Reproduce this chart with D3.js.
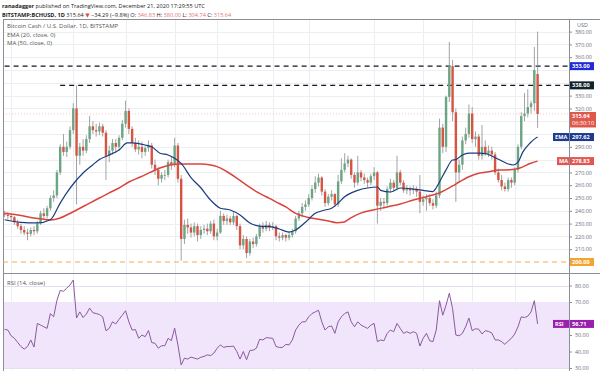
<!DOCTYPE html>
<html>
<head>
<meta charset="utf-8">
<script src="https://cdn.jsdelivr.net/npm/d3@7"></script>
<style>
  body { margin: 0; background: #fff; }
  svg { display: block; font-family: "Open Sans", "DejaVu Sans", sans-serif; }
</style>
</head>
<body>
<svg id="chart" width="600" height="371"></svg>
<script>
// daily BCH/USD candles, first one is 11 Jul 2020, last one 21 Dec 2020
const firstDay = "2020-07-11";
// [open, high, low, close]
const candles = [
  [238,240,235,237],[237,239,233,236],[236,238,232,235],[235,236,229,231],[231,233,226,228],
  [228,230,222,225],[225,228,221,223],[223,226,217,222],[222,227,220,225],[225,228,221,224],
  [224,232,222,230],[230,240,229,238],[238,242,233,236],[236,244,234,242],[242,252,240,250],
  [250,256,247,252],[252,272,250,270],[270,292,268,290],[290,300,283,286],[286,294,282,290],
  [290,306,288,303],[303,324,300,320],[320,338,245,283],[283,293,276,290],[290,296,283,287],
  [287,299,285,296],[296,314,293,306],[306,310,300,303],[303,308,298,302],[302,309,299,306],
  [306,308,298,301],[301,303,264,283],[283,291,278,287],[287,296,284,293],[293,296,285,290],
  [290,299,287,297],[297,311,295,308],[308,326,305,318],[318,320,300,304],[304,306,290,293],
  [293,297,286,288],[288,295,284,290],[290,294,281,286],[286,291,283,289],[289,295,286,291],
  [291,293,273,276],[276,280,268,272],[272,274,260,265],[265,270,262,268],[268,272,264,268],
  [268,280,266,278],[278,282,272,276],[276,297,274,291],[291,293,262,265],[265,268,201,218],
  [218,233,214,229],[229,234,222,227],[227,230,219,223],[223,231,220,228],[228,230,216,221],
  [221,228,218,225],[225,229,222,226],[226,230,221,224],[224,232,222,230],[230,233,217,220],
  [220,226,217,223],[223,240,222,236],[236,238,229,232],[232,237,229,234],[234,236,229,231],
  [231,239,229,236],[236,237,225,228],[228,230,210,213],[213,221,210,218],[218,220,203,207],
  [207,218,205,216],[216,219,211,214],[214,222,212,220],[220,230,218,228],[228,231,223,226],
  [226,232,224,229],[229,231,224,227],[227,231,225,228],[228,229,217,220],[220,223,216,219],
  [219,223,217,221],[221,222,216,219],[219,224,217,221],[221,226,219,224],[224,236,222,234],
  [234,240,232,238],[238,246,235,243],[243,248,240,245],[245,253,243,250],[250,260,248,257],
  [257,267,254,262],[262,269,259,266],[266,267,252,255],[255,257,243,246],[246,253,244,251],
  [251,256,248,253],[253,254,243,245],[245,268,243,263],[263,281,261,272],[272,285,270,277],
  [277,283,274,280],[280,281,265,268],[268,270,258,262],[262,283,260,270],[270,272,263,266],
  [266,269,261,264],[264,266,258,262],[262,269,260,267],[267,274,264,270],[270,271,230,244],
  [244,250,240,247],[247,250,242,246],[246,259,244,257],[257,265,254,262],[262,264,255,258],
  [258,283,256,270],[270,272,260,262],[262,264,254,256],[256,260,253,257],[257,259,252,256],
  [256,260,253,257],[257,259,251,255],[255,268,238,247],[247,252,244,249],[249,253,240,250],
  [250,253,244,246],[246,249,241,244],[244,255,242,252],[252,312,250,305],[305,308,285,290],
  [290,330,286,329],[329,372,325,353],[353,358,310,317],[317,320,247,270],[270,280,262,276],
  [276,298,272,295],[295,305,292,300],[300,323,297,316],[316,321,293,296],[296,302,290,298],
  [298,300,280,283],[283,307,280,290],[290,295,283,285],[285,291,282,287],[287,290,280,284],
  [284,286,268,270],[270,273,262,264],[264,268,256,259],[259,262,255,257],[257,266,255,264],
  [264,266,258,262],[262,274,260,272],[272,292,270,290],[290,317,288,314],[314,332,310,316],
  [316,335,313,321],[321,326,316,324],[324,368,318,349.93],[346.83,380,304.74,315.64]
];

// EMA(20): [day number, value]
const ema20 = [
  [0,233],[5,231],[10,230.5],[14,233],[17,246],[19,254],[21.5,262.5],[24,269.5],[27,276],
  [29,280],[32,283.6],[35,287.5],[37.5,293],[39,293],[43,291.4],[45,290],[47.5,285],[50,283.6],
  [52,281],[54,277],[57,266],[60,258],[63,248.4],[66,242],[69,240.6],[72,236.7],[75,230.5],
  [78,228],[81,227.6],[84,225.8],[87,223.4],[89,225],[92,231],[95,238],[98,240.6],[100,242],
  [102,246],[104,251],[108,256],[111,257.8],[114,258.6],[115,256],[118,254.7],[121,257.8],
  [125,257],[128,256],[131,255],[132,258],[133,262.5],[135,272],[137,279.7],[138,280],
  [140,283.6],[142,285],[145,285],[147.5,284.5],[149,282.8],[151.5,279.7],[153.6,277],
  [155.5,275.8],[157,278],[158.5,286],[160.7,293],[162,296],[163,297.62]
];

// MA(50)
const ma50 = [
  [0,238],[4,236.7],[9,234.4],[14,232.8],[17,234.4],[19,236.7],[22,240.6],[26,246],[29,250],
  [32,254],[35,257.8],[38,262.5],[41.5,266.4],[44.5,270],[47.5,273.4],[50.6,275.8],[53.6,276.6],
  [60,276.6],[63,275.8],[65,274.5],[68,270.5],[71,265.6],[74,260],[77,255],[80,251],[83,247],
  [86,243],[89,238],[92.5,235],[95.5,233.6],[98.6,232.3],[101.6,230.7],[103.5,231],[105.6,234],
  [108.7,238],[112.7,240.6],[117,243],[121,245.3],[125,248.4],[129,251],[133,254],[137,259.4],
  [139,262.5],[142,266.6],[145,269.3],[148,270.5],[151.5,271.9],[154.5,272],[157.6,273.4],
  [160.7,277],[163,278.83]
];

// RSI(14), one value per candle
const rsi14 = [
  53.4,53,49.5,48,45.5,43,41.5,43,47,42.7,
  57,56,55,54,63,61,71,77,76.5,78.4,
  80.3,83.3,60.3,64,60.6,62.7,66.3,63.5,63,62.4,
  61,52.6,54,58,56.7,59.5,62,64.7,58,53,
  53.3,48,50,49,52.7,45.4,45,42,43.5,43.5,
  48,46.6,54.2,44,31.8,36,35.4,36.6,36,35.4,
  36.5,37,38,37.5,39,42,44,42.5,43,43,
  43.3,40,35.4,40,35,40.6,40.8,42,47.4,47,
  48.4,48.2,48,43,42.5,42.5,44.3,44,47,53,
  56,58,58,61,63,64,65,58,53,55,
  55.5,51,58,61,63,64,58,55,58,56,
  55,54,56,57,46,47,46.5,51,53,52,
  57,54,51,52,51,52,51,43.3,48,51,
  46.5,46,53,70.8,62,68,75.3,66,50,49.5,
  51,55,60.3,52.6,53.8,53.5,50.6,52.6,52.2,51.2,
  47,47,46,44.3,46.3,48,50.6,55,61,60.6,
  61.4,64,70.8,56.71
];

const gridDays = ["2020-07-13","2020-08-01","2020-08-17","2020-09-01","2020-09-14",
  "2020-10-01","2020-10-12","2020-11-01","2020-11-16","2020-12-01","2020-12-14"];
const priceTicks = [210,220,230,240,250,260,270,280,290,300,310,320,330,340,350,360,370,380];
const rsiTicks = [30,40,50,60,70,80];
const resistLevels = [353, 338];
const resistFrom = ["2020-07-11", "2020-07-28"];
const supportLevel = 200;
const lastClose = 315.64, emaLast = 297.62, maLast = 278.83, rsiLast = 56.71;
const countdown = "06:30:10";

const svg = d3.select("#chart");
const parse = d3.utcParse("%Y-%m-%d");
const day0 = parse(firstDay);
const dayAt = i => d3.utcDay.offset(day0, i);
const dayAtF = i => new Date(+day0 + i * 864e5);

const axisX = 569;
const x = d3.scaleUtc().domain([day0, dayAt(candles.length - 1)]).range([4.6, 537.6]);
const y = d3.scaleLinear().domain([200, 380]).range([262, 31.6]);
const yR = d3.scaleLinear().domain([30, 80]).range([368, 285.5]);

const up = "#6ba583", down = "#d75442";

// header
const head = svg.append("g").attr("font-size", 5.6).attr("fill", "#222");
const l1 = head.append("text").attr("x", 2).attr("y", 8);
l1.append("tspan").attr("font-weight", "bold").text("ranadagger");
l1.append("tspan").text(" published on TradingView.com, December 21, 2020 17:29:55 UTC");
const l2 = head.append("text").attr("x", 2).attr("y", 16.5);
l2.append("tspan").attr("font-weight", "bold").text("BITSTAMP:BCHUSD, 1D");
l2.append("tspan").text(" 315.64 ");
l2.append("tspan").attr("fill", down).text("▼");
l2.append("tspan").text(" −34.29 (−9.8%) O: ");
l2.append("tspan").attr("fill", "#e57373").text("346.83");
l2.append("tspan").text(" H: ");
l2.append("tspan").attr("fill", "#e57373").text("380.00");
l2.append("tspan").text(" L: ");
l2.append("tspan").attr("fill", "#e57373").text("304.74");
l2.append("tspan").text(" C: ");
l2.append("tspan").attr("fill", "#e57373").text("315.64");

// grid
const grid = svg.append("g").attr("stroke", "#eceff2").attr("stroke-width", 1);
grid.selectAll(".vg").data(gridDays).join("line")
  .attr("x1", d => Math.round(x(parse(d))) + 0.5).attr("x2", d => Math.round(x(parse(d))) + 0.5)
  .attr("y1", 20).attr("y2", 371);
grid.selectAll(".hg").data(priceTicks).join("line")
  .attr("x1", 3).attr("x2", axisX).attr("y1", d => Math.round(y(d)) + 0.5).attr("y2", d => Math.round(y(d)) + 0.5);

// RSI band
svg.append("rect").attr("x", 3).attr("width", axisX - 3)
  .attr("y", yR(70)).attr("height", yR(30) - yR(70)).attr("fill", "#f1e5fb");
grid.selectAll(".rg").data(rsiTicks).join("line")
  .attr("x1", 3).attr("x2", axisX).attr("y1", d => Math.round(yR(d)) + 0.5).attr("y2", d => Math.round(yR(d)) + 0.5)
  .attr("stroke", "#e6e0ee");

// frame
const frame = svg.append("g").attr("stroke", "#8a8e96").attr("stroke-width", 1);
frame.append("line").attr("x1", 3).attr("x2", 600).attr("y1", 19.5).attr("y2", 19.5);
frame.append("line").attr("x1", 3).attr("x2", 600).attr("y1", 273.5).attr("y2", 273.5);
frame.append("line").attr("x1", 3.5).attr("x2", 3.5).attr("y1", 19.5).attr("y2", 371);
frame.append("line").attr("x1", axisX + 0.5).attr("x2", axisX + 0.5).attr("y1", 19.5).attr("y2", 371);

// support / resistance
svg.selectAll(".res").data(resistLevels).join("line")
  .attr("x1", (d, i) => x(parse(resistFrom[i]))).attr("x2", axisX)
  .attr("y1", d => y(d)).attr("y2", d => y(d))
  .attr("stroke", "#131722").attr("stroke-width", 1.2).attr("stroke-dasharray", "5,4");
svg.append("line").attr("x1", 3).attr("x2", axisX).attr("y1", y(supportLevel)).attr("y2", y(supportLevel))
  .attr("stroke", "#f0b055").attr("stroke-width", 1.2).attr("stroke-dasharray", "5,4");
svg.append("line").attr("x1", 3).attr("x2", axisX).attr("y1", y(lastClose)).attr("y2", y(lastClose))
  .attr("stroke", down).attr("stroke-width", 0.6).attr("stroke-dasharray", "1,2").attr("opacity", 0.5);

// candles
const cg = svg.append("g");
cg.selectAll(".wick").data(candles).join("line")
  .attr("x1", (d, i) => x(dayAt(i))).attr("x2", (d, i) => x(dayAt(i)))
  .attr("y1", d => y(d[1])).attr("y2", d => y(d[2]))
  .attr("stroke", "#8c8c90").attr("stroke-width", 0.8);
cg.selectAll(".body").data(candles).join("rect")
  .attr("x", (d, i) => x(dayAt(i)) - 1.2).attr("width", 2.4)
  .attr("y", d => y(Math.max(d[0], d[3])))
  .attr("height", d => Math.max(0.8, Math.abs(y(d[0]) - y(d[3]))))
  .attr("fill", d => d[3] >= d[0] ? up : down);

// moving averages
const avgLine = d3.line().x(d => x(dayAtF(d[0]))).y(d => y(d[1])).curve(d3.curveMonotoneX);
svg.append("path").datum(ma50).attr("d", avgLine).attr("fill", "none")
  .attr("stroke", "#d9453d").attr("stroke-width", 1.5);
svg.append("path").datum(ema20).attr("d", avgLine).attr("fill", "none")
  .attr("stroke", "#1c3b7e").attr("stroke-width", 1.2);

// RSI line
svg.append("path").datum(rsi14)
  .attr("d", d3.line().x((d, i) => x(dayAt(i))).y(d => yR(d)))
  .attr("fill", "none").attr("stroke", "#8a5a9c").attr("stroke-width", 1);

// legends
const leg = svg.append("g").attr("font-size", 6).attr("fill", "#555");
leg.append("text").attr("x", 7).attr("y", 28).text("Bitcoin Cash / U.S. Dollar, 1D, BITSTAMP");
leg.append("text").attr("x", 7).attr("y", 36.5).text("EMA (20, close, 0)");
leg.append("text").attr("x", 7).attr("y", 45).text("MA (50, close, 0)");
leg.append("text").attr("x", 7).attr("y", 285).text("RSI (14, close)");

// axis tags
const tags = [
  { v: y(353), text: "353.00", fill: "#1f2bd6" },
  { v: y(338), text: "338.00", fill: "#13232d" },
  { v: y(lastClose) + 5.5, text: lastClose.toFixed(2), fill: "#e0584c", sub: countdown },
  { v: y(emaLast), text: emaLast.toFixed(2), fill: "#1c3b8e", name: "EMA" },
  { v: y(maLast), text: maLast.toFixed(2), fill: "#e0574f", name: "MA" },
  { v: y(supportLevel), text: supportLevel.toFixed(2), fill: "#f3a532" },
  { v: yR(rsiLast), text: rsiLast.toFixed(2), fill: "#9a1fae", name: "RSI" }
];

const shown = priceTicks.filter(t => !tags.slice(0, 6).some(g => Math.abs(g.v - y(t)) < (g.sub ? 5 : 7.5)));
const axisP = d3.axisRight(y).tickValues(shown).tickFormat(d3.format(".2f")).tickSize(3).tickPadding(3);
const ga = svg.append("g").attr("transform", `translate(${axisX},0)`).call(axisP);
const shownR = rsiTicks.filter(t => Math.abs(yR(t) - yR(rsiLast)) > 6);
const axisR = d3.axisRight(yR).tickValues(shownR).tickFormat(d3.format(".2f")).tickSize(3).tickPadding(3);
const gr = svg.append("g").attr("transform", `translate(${axisX},0)`).call(axisR);
[ga, gr].forEach(g => {
  g.select(".domain").remove();
  g.selectAll("line").attr("stroke", "#8a8e96");
  g.selectAll("text").attr("fill", "#6a6d78").attr("font-size", 5.4).attr("font-family", "Open Sans, sans-serif");
});
svg.append("text").attr("x", 577).attr("y", 26.5).attr("font-size", 5.4).attr("fill", "#6a6d78").text("USD");

const tg = svg.append("g").attr("font-size", 5.6).attr("font-weight", "bold").attr("fill", "#fff");
tags.forEach(t => {
  const h = t.sub ? 15.5 : 8;
  const top = t.sub ? t.v - 7.5 : t.v - 4;
  tg.append("rect").attr("x", axisX + 1).attr("y", top).attr("width", t.sub ? 26 : 24).attr("height", h).attr("fill", t.fill);
  tg.append("text").attr("x", axisX + 3).attr("y", top + 6).text(t.text);
  if (t.sub) tg.append("text").attr("x", axisX + 3).attr("y", top + 13.5).attr("font-weight", "normal").text(t.sub);
  if (t.name) {
    const w = t.name.length * 4 + 4;
    tg.append("rect").attr("x", axisX - w).attr("y", top).attr("width", w).attr("height", h).attr("fill", t.fill);
    tg.append("text").attr("x", axisX - w + 2).attr("y", top + 6).text(t.name);
  }
});
</script>
</body>
</html>
